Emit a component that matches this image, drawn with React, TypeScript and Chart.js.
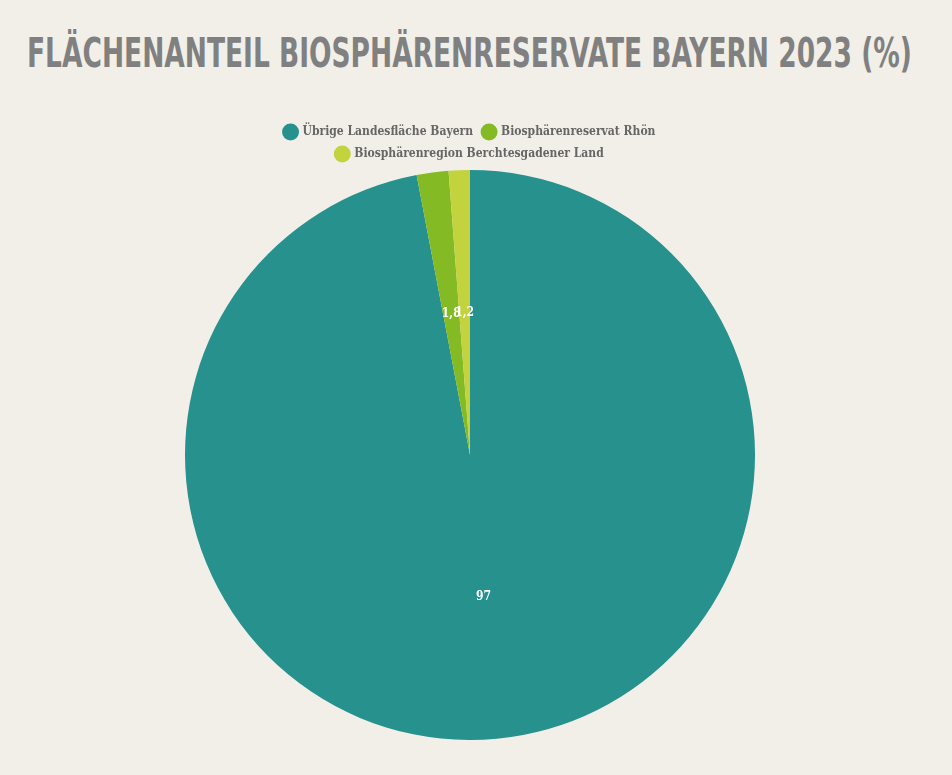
import React, { useEffect, useRef } from "react";
import { Chart, registerables, Plugin } from "chart.js";

Chart.register(...registerables);

// data
const labels = [
  "Übrige Landesfläche Bayern",
  "Biosphärenreservat Rhön",
  "Biosphärenregion Berchtesgadener Land",
];
const shares = [97, 1.8, 1.2];
const colors = ["#26918d", "#84ba24", "#c2d33e"];

const BG = "#f2efe8";
const SLAB = "'DejaVu Serif Condensed', 'DejaVu Serif', serif";
const TITLE_WIDTH = 885;

// draws the values in the middle of each slice
const valueLabels: Plugin<"pie"> = {
  id: "valueLabels",
  afterDatasetsDraw(chart) {
    const ctx = chart.ctx;
    const meta = chart.getDatasetMeta(0);
    ctx.save();
    ctx.font = `bold 12px ${SLAB}`;
    ctx.fillStyle = "#ffffff";
    ctx.textAlign = "center";
    ctx.textBaseline = "middle";
    meta.data.forEach((arc, i) => {
      const p = (arc as any).getCenterPoint();
      const v = shares[i].toString().replace(".", ",");
      ctx.fillText(v, p.x, p.y);
    });
    ctx.restore();
  },
};

const App: React.FC = () => {
  const chartRef = useRef<HTMLCanvasElement>(null);
  const titleRef = useRef<HTMLDivElement>(null);
  const chartInstanceRef = useRef<Chart<"pie"> | null>(null);

  useEffect(() => {
    document.body.style.margin = "0";
    document.body.style.background = BG;
    if (titleRef.current) {
      const w = titleRef.current.scrollWidth;
      titleRef.current.style.transform = `scaleX(${TITLE_WIDTH / w})`;
    }
    if (!chartRef.current) return;
    const ctx = chartRef.current.getContext("2d");
    if (!ctx) return;
    chartInstanceRef.current = new Chart(ctx, {
      type: "pie",
      data: {
        labels,
        datasets: [
          {
            data: shares,
            backgroundColor: colors,
            borderWidth: 0,
          },
        ],
      },
      options: {
        animation: false,
        responsive: true,
        maintainAspectRatio: false,
        layout: { padding: { top: 10, bottom: 0 } },
        plugins: {
          legend: {
            position: "top",
            labels: {
              usePointStyle: true,
              pointStyle: "circle",
              color: "#666666",
              font: { family: SLAB, size: 12, weight: "bold" },
              boxWidth: 12,
              boxHeight: 12,
            },
          },
          tooltip: { enabled: false },
        },
      },
      plugins: [valueLabels],
    });
    return () => {
      chartInstanceRef.current?.destroy();
      chartInstanceRef.current = null;
    };
  }, []);

  return (
    <div style={{ position: "relative", width: 952, height: 775, background: BG, overflow: "hidden" }}>
      <div
        ref={titleRef}
        style={{
          position: "absolute",
          left: 27,
          top: 28,
          fontFamily: "'DejaVu Sans', sans-serif",
          fontStretch: "condensed",
          fontWeight: "bold",
          fontSize: 41,
          lineHeight: "50px",
          color: "#808080",
          whiteSpace: "nowrap",
          transformOrigin: "left center",
        }}
      >
        FLÄCHENANTEIL BIOSPHÄRENRESERVATE BAYERN 2023 (%)
      </div>
      <div style={{ position: "absolute", left: 170, top: 106, width: 600, height: 634 }}>
        <canvas ref={chartRef}></canvas>
      </div>
    </div>
  );
};

export default App;
